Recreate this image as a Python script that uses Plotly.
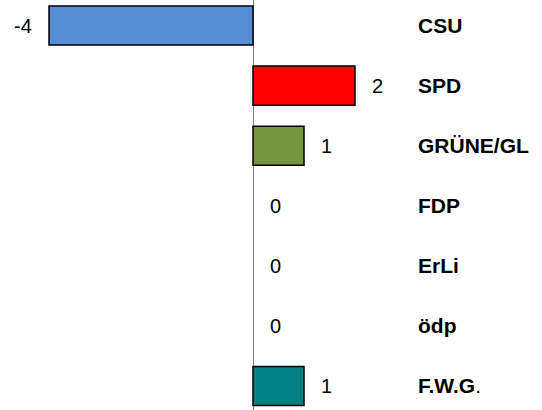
import plotly.graph_objects as go

parties = ["CSU", "SPD", "GRÜNE/GL", "FDP", "ErLi", "ödp", "F.W.G."]
party_labels = ["<b>CSU</b>", "<b>SPD</b>", "<b>GRÜNE/GL</b>", "<b>FDP</b>",
                "<b>ErLi</b>", "<b>ödp</b>", "<b>F.W.G</b>."]
changes = [-4, 2, 1, 0, 0, 0, 1]
colors = ["#558ED5", "#FF0000", "#77933C", "#FFFFFF", "#FFFFFF", "#FFFFFF", "#008080"]

W, H = 542, 410
fig = go.Figure()
fig.add_trace(go.Bar(
    x=changes, y=parties, orientation="h",
    marker=dict(color=colors,
                line=dict(color="#000000", width=[1.5 if v != 0 else 0 for v in changes])),
    width=0.65, showlegend=False, hoverinfo="skip",
))

for p, v in zip(parties, changes):
    fig.add_annotation(
        x=v, y=p, text=str(v), showarrow=False,
        xanchor="right" if v < 0 else "left",
        xshift=-15 if v < 0 else 15,
        font=dict(family="Arial, Liberation Sans", size=20, color="#000000"),
    )

fig.update_layout(
    width=W, height=H,
    margin=dict(l=0, r=0, t=0, b=0),
    paper_bgcolor="white", plot_bgcolor="white",
    font=dict(family="Arial, Liberation Sans", size=20, color="#000000"),
    bargap=0.35,
)
fig.update_xaxes(
    domain=[0, 410 / W], range=[-253 / 51, (410 - 253) / 51],
    showgrid=False, showticklabels=False, ticks="",
    zeroline=True, zerolinecolor="#7F7F7F", zerolinewidth=1,
    showline=False,
)
fig.update_yaxes(
    type="category", categoryorder="array", categoryarray=parties,
    range=[6.4, -0.425], side="right",
    tickmode="array", tickvals=parties, ticktext=party_labels,
    ticks="", showgrid=False, showline=False, zeroline=False,
    ticklabelstandoff=7, automargin=False,
    tickfont=dict(family="Arial, Liberation Sans", size=21, color="#000000"),
)

fig.write_html("out.html", config={"displayModeBar": False},
               post_script="document.body.style.margin='0';")
